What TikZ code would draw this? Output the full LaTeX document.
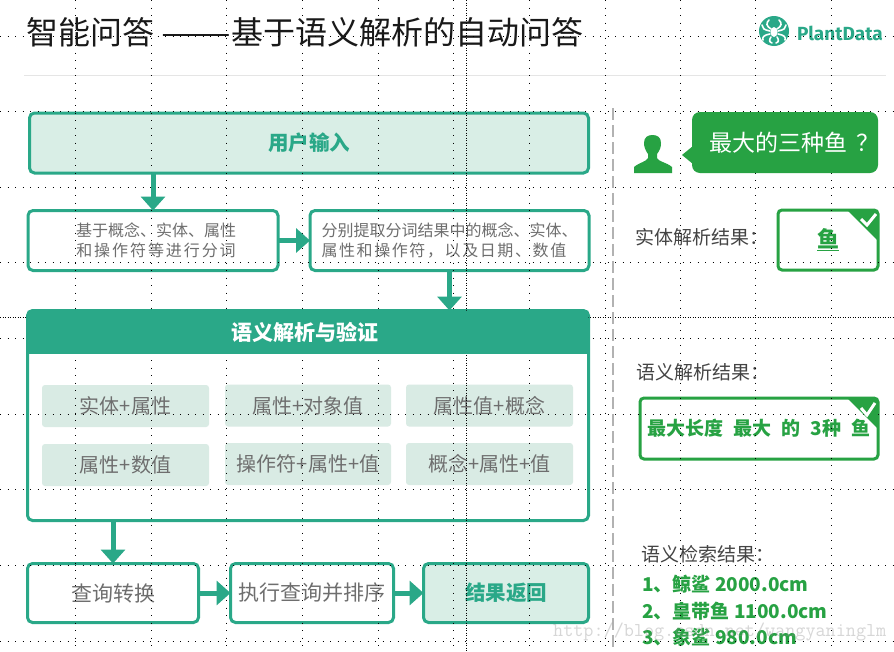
\documentclass[tikz,border=0pt]{standalone}
\usepackage{graphicx}
\usepackage{fontspec}
\setmainfont{Noto Sans CJK SC}
\newfontfamily\logofont{Fira Sans}
\usetikzlibrary{arrows.meta,calc}
\definecolor{tealc}{HTML}{2AA888}
\definecolor{lightc}{HTML}{D9EEE6}
\definecolor{chipc}{HTML}{D9EBE4}
\definecolor{greenc}{HTML}{27A243}
\definecolor{graytxt}{HTML}{6E6E6E}
\definecolor{darktxt}{HTML}{444444}
\tikzset{
  box/.style={draw=tealc,line width=3pt,rounded corners=5pt,inner sep=0pt,outer sep=0pt,align=center},
  lightbox/.style={box,fill=lightc,text=tealc,font=\fontsize{20.5}{24}\selectfont\bfseries},
  plainbox/.style={box,text=graytxt,font=\fontsize{21}{26}\selectfont},
  smallbox/.style={box,text=graytxt,font=\fontsize{16}{20}\selectfont},
  chip/.style={fill=chipc,rounded corners=3pt,inner sep=0pt,outer sep=0pt,minimum width=167pt,minimum height=42pt,text=graytxt,font=\fontsize{20}{24}\selectfont},
  flow/.style={draw=tealc,line width=5pt,-{Triangle[length=14pt,width=24pt]},fill=tealc},
  gbox/.style={draw=greenc,line width=3pt,rounded corners=4pt,inner sep=0pt,outer sep=0pt},
  lab/.style={anchor=west,inner sep=0pt,text=darktxt,font=\fontsize{19}{23}\selectfont},
  res/.style={anchor=west,inner sep=0pt,text=greenc,font=\fontsize{19}{23}\selectfont\bfseries},
  griddot/.style={black,line width=0.8pt,dash pattern=on 1pt off 6.5pt},
  griddense/.style={black,line width=0.8pt,dash pattern=on 1pt off 1.5pt},
  check/.style={draw=white,line width=3pt}
}
\begin{document}
\begin{tikzpicture}[x=1pt,y=-1pt]
\useasboundingbox (0,0) rectangle (894,651);
\fill[white] (0,0) rectangle (894,651);

% title and logo text
\node[anchor=west,inner sep=0pt,text=black!90,font=\fontsize{32}{36}\selectfont] (title) at (26,32) {智能问答 \scalebox{1.3}[1]{——}基于语义解析的自动问答};
\draw[black!10,line width=1pt] (24,75) -- (886,75);

% boxes
\node[lightbox,minimum width=559pt,minimum height=60pt] (input) at (309,143) {用户输入};
\node[smallbox,minimum width=250pt,minimum height=60pt] (seg) at (153,240.5) {\hspace*{6pt}基于概念、实体、属性\\\hspace*{6pt}{\addfontfeature{LetterSpace=12}和操作符等进行分词}};
\node[smallbox,align=left,minimum width=279pt,minimum height=60pt] (ext) at (449.5,240.5) {分别提取分词结果中的概念、实体、\\{\addfontfeature{LetterSpace=10}属性和操作符，以及日期、数值}};
\node[box,minimum width=561pt,minimum height=210pt] (parse) at (308,415.5) {};
\node[chip] (c1) at (125.5,406) {实体+属性};
\node[chip,minimum width=166pt] (c2) at (308,405.5) {属性+对象值};
\node[chip] (c3) at (489.5,405.5) {属性值+概念};
\node[chip] (c4) at (125.5,465) {属性+数值};
\node[chip,minimum width=166pt] (c5) at (308,464) {操作符+属性+值};
\node[chip] (c6) at (489.5,464) {概念+属性+值};
\node[plainbox,minimum width=171pt,minimum height=59pt] (query) at (113,593) {查询转换};
\node[plainbox,minimum width=163pt,minimum height=59pt] (exec) at (312,593) {执行查询并排序};
\node[lightbox,minimum width=165pt,minimum height=59pt] (result) at (506,593) {结果返回};

% right column text
\node[lab] (l1) at (635,237) {实体解析结果：};
\node[gbox,minimum width=100pt,minimum height=60pt,text=greenc,font=\fontsize{22}{26}\selectfont\bfseries] (ebox) at (828,240) {\underline{鱼}};
\node[lab] (l2) at (636,372) {语义解析结果：};
\node[gbox,minimum width=238pt,minimum height=61pt,text=greenc,font=\fontsize{19}{23}\selectfont\bfseries] (pbox) at (759,428.5) {\spaceskip=10pt 最大长度 最大 的 3种 鱼};
\node[lab] (l3) at (641,554) {语义检索结果：};
\node[res] (r1) at (642,584) {1、鲸鲨 2000.0cm};
\node[res] (r2) at (642,611) {2、皇带鱼 1100.0cm};
\node[res] (r3) at (642,637) {3、象鲨 980.0cm};
\node[anchor=west,inner sep=0pt,font=\logofont\fontsize{19}{22}\selectfont\bfseries,text=tealc] (brand) at (797,33) {PlantData};

% dotted grid
\foreach \gx in {75.5,151,226.5,302,378,453.5,529,605,680,755,831}
  \draw[griddot] (\gx,0) -- (\gx,651);
\foreach \gy in {36,111,187,262,338,414,489,565,641}
  \draw[griddot] (0,\gy) -- (894,\gy);
\draw[griddense] (466,0) -- (466,651);
\draw[griddense] (0,317) -- (894,317);

% dashed divider
\draw[black!30,line width=2pt,dash pattern=on 12pt off 5pt] (613,108) -- (613,651);

% header of parse box
\fill[tealc,rounded corners=7pt] (parse.north west) rectangle ($(parse.north east)+(0,30)$);
\fill[tealc] ($(parse.north west)+(0,15)$) rectangle ($(parse.north east)+(0,43)$);
\node[inner sep=0pt,text=white,font=\fontsize{21}{25}\selectfont\bfseries] (head) at (304.5,332) {语义解析与验证};

% flow arrows
\draw[flow] (input.south -| seg.north) -- (seg.north);
\draw[flow] (seg.east) -- (ext.west);
\draw[flow] (ext.south) -- (ext.south |- parse.north);
\draw[flow] (parse.south -| query.north) -- (query.north);
\draw[flow] (query.east) -- (exec.west);
\draw[flow] (exec.east) -- (result.west);

% person icon
\fill[greenc] (634,173) -- (634,167) .. controls (640,162) and (646,162) .. (648,158) -- (648,154)
  .. controls (645,150) and (644,146) .. (644,143) .. controls (644,137) and (648,135) .. (652.5,135)
  .. controls (657,135) and (661,137) .. (661,143) .. controls (661,147) and (660,150) .. (657,154)
  -- (657,158) .. controls (659,162) and (666,162) .. (672,167) -- (672,173) -- cycle;

% speech bubble
\node[fill=greenc,rounded corners=8pt,inner sep=0pt,outer sep=0pt,minimum width=186pt,minimum height=61pt,text=white,font=\fontsize{23}{27}\selectfont] (bubble) at (785,142.5) {\makebox[186pt][l]{\hspace{17pt}最大的三种鱼\hspace{9pt}？}};
\fill[greenc] (682,155) -- (693,146) -- (693,164) -- cycle;

% corner ticks
\fill[greenc,rounded corners=1.5pt] ($(ebox.north east)+(-31,0)$) -- (ebox.north east) -- ($(ebox.north east)+(0,31)$) -- cycle;
\draw[check] ($(ebox.north east)+(-17,9)$) -- ($(ebox.north east)+(-11,15)$) -- ($(ebox.north east)+(-2,4)$);
\fill[greenc,rounded corners=1.5pt] ($(pbox.north east)+(-31,0)$) -- (pbox.north east) -- ($(pbox.north east)+(0,31)$) -- cycle;
\draw[check] ($(pbox.north east)+(-17,10)$) -- ($(pbox.north east)+(-11,17)$) -- ($(pbox.north east)+(-3,5)$);

% logo
\node[circle,fill=tealc,inner sep=0pt,minimum size=30pt] (logo) at (774,31) {};
\begin{scope}[shift={(774,31)},white,line width=1.6pt,line cap=round]
  \fill (0,1) ellipse (3.5pt and 5pt);
  \draw (-3,-2) .. controls (-8,-5) and (-8,-8) .. (-5,-11);
  \draw (3,-2) .. controls (8,-5) and (8,-8) .. (5,-11);
  \draw (-4,0) .. controls (-10,-1) and (-12,-3) .. (-12,-6);
  \draw (4,0) .. controls (10,-1) and (12,-3) .. (12,-6);
  \draw (-4,3) .. controls (-10,4) and (-12,6) .. (-11,9);
  \draw (4,3) .. controls (10,4) and (12,6) .. (11,9);
  \draw (-3,6) .. controls (-5,9) and (-5,11) .. (-2,12);
  \draw (3,6) .. controls (5,9) and (5,11) .. (2,12);
\end{scope}

% watermark
\node[anchor=west,inner sep=0pt,text=black!45,opacity=0.35,font=\ttfamily\fontsize{19.6}{22}\selectfont] (mark) at (553,632) {http://blog.csdn.net/wangyaninglm};
\end{tikzpicture}
\end{document}
